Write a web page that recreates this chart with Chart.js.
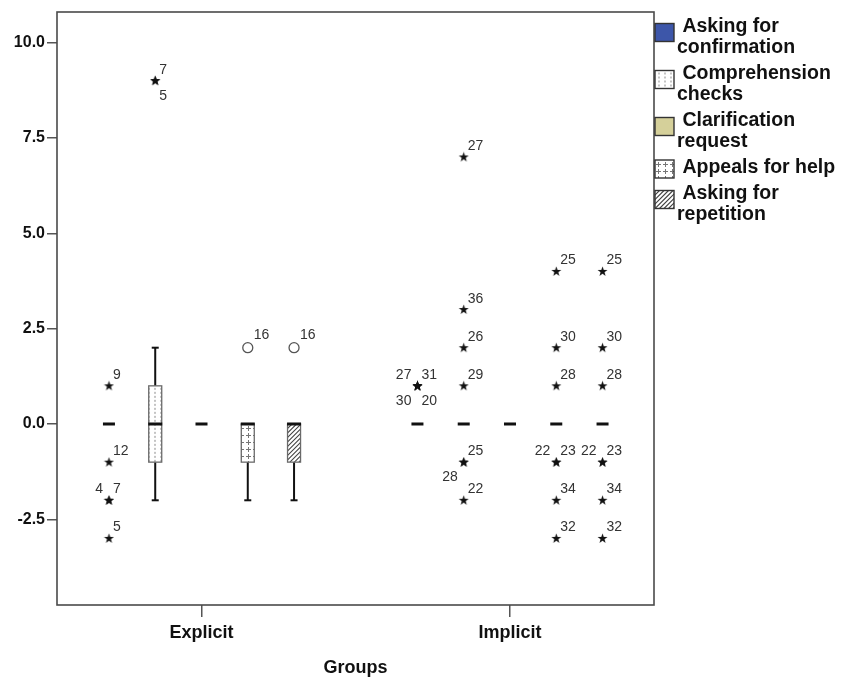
<!DOCTYPE html>
<html lang="en">
<head>
<meta charset="UTF-8">
<title>Strategies by group</title>
<script src="https://cdn.jsdelivr.net/npm/chart.js@4"></script>
<style>
  body { margin: 0; background: #fff; }
  canvas { display: block; }
</style>
</head>
<body>
<canvas id="boxChart" width="844" height="682"></canvas>
<script>
// groups on the x axis, five strategies side by side in each group
const groups = ['Explicit', 'Implicit'];
const strategies = ['Asking for confirmation', 'Comprehension checks', 'Clarification request', 'Appeals for help', 'Asking for repetition'];
const yTicks = [-2.5, 0, 2.5, 5, 7.5, 10];

// [min, q1, median, q3, max] for each strategy
const explicitStats = [
  [0, 0, 0, 0, 0],
  [-2, -1, 0, 1, 2],
  [0, 0, 0, 0, 0],
  [-2, -1, 0, 0, 0],
  [-2, -1, 0, 0, 0]
];
const implicitStats = [
  [0, 0, 0, 0, 0],
  [0, 0, 0, 0, 0],
  [0, 0, 0, 0, 0],
  [0, 0, 0, 0, 0],
  [0, 0, 0, 0, 0]
];

// extreme values (stars): [value, case numbers]
const explicitExtremes = [
  [[1, ['9']], [-1, ['12']], [-2, ['4', '7']], [-3, ['5']]],
  [[9, ['7', '5']]],
  [],
  [],
  []
];
const implicitExtremes = [
  [[1, ['27', '31', '30', '20']]],
  [[7, ['27']], [3, ['36']], [2, ['26']], [1, ['29']], [-1, ['25', '28']], [-2, ['22']]],
  [],
  [[4, ['25']], [2, ['30']], [1, ['28']], [-1, ['22', '23']], [-2, ['34']], [-3, ['32']]],
  [[4, ['25']], [2, ['30']], [1, ['28']], [-1, ['22', '23']], [-2, ['34']], [-3, ['32']]]
];

// outliers (circles)
const explicitOutliers = [[], [], [], [[2, ['16']]], [[2, ['16']]]];
const implicitOutliers = [[], [], [], [], []];

// where case numbers sit around a mark that holds several cases
const labelSpots = {
  '7,5': ['ur', 'lr'],
  '4,7': ['ul', 'ur'],
  '25,28': ['ur', 'll'],
  '22,23': ['ul', 'ur'],
  '27,31,30,20': ['ul', 'ur', 'll', 'lr']
};

const fills = ['#3D56A9', 'dots', '#D5D09A', 'plus', 'hatch'];
const FONT = "'Liberation Sans', Arial, sans-serif";
const spread = 0.15;
const xOf = (g, s) => g + (s - 2) * spread;

// flatten the outlier lists into marks
const marks = [];
[[explicitExtremes, implicitExtremes, 'star'], [explicitOutliers, implicitOutliers, 'circle']].forEach(([a, b, kind]) => {
  [a, b].forEach((lists, g) => lists.forEach((list, s) => list.forEach(([v, ids]) => {
    marks.push({ x: xOf(g, s), y: v, ids, kind });
  })));
});

// small filled five-point star used as point style
const star = document.createElement('canvas');
star.width = 11; star.height = 11;
(function () {
  const c = star.getContext('2d');
  c.beginPath();
  for (let i = 0; i < 10; i++) {
    const r = i % 2 ? 2.1 : 5.2;
    const a = -Math.PI / 2 + i * Math.PI / 5;
    c.lineTo(5.5 + r * Math.cos(a), 5.7 + r * Math.sin(a));
  }
  c.closePath();
  c.fillStyle = '#111';
  c.fill();
})();

function paintFill(ctx, kind, x, y, w, h) {
  ctx.save();
  ctx.beginPath();
  ctx.rect(x, y, w, h);
  ctx.clip();
  if (kind[0] === '#') {
    ctx.fillStyle = kind;
    ctx.fillRect(x, y, w, h);
    ctx.restore();
    return;
  }
  ctx.fillStyle = '#fff';
  ctx.fillRect(x, y, w, h);
  const cx = x + w / 2;
  if (kind === 'dots') {
    ctx.fillStyle = '#8a8a8a';
    for (let k = -3; k <= 3; k++) {
      for (let yy = y + 2; yy < y + h; yy += 4) ctx.fillRect(Math.round(cx + k * 6) - 0.5, yy, 1, 2);
    }
  } else if (kind === 'plus') {
    ctx.strokeStyle = '#777';
    ctx.lineWidth = 1;
    for (let k = -3; k <= 3; k++) {
      for (let yy = y + 4; yy < y + h + 3; yy += 7) {
        const px = Math.round(cx + k * 7) + 0.5, py = Math.round(yy) + 0.5;
        ctx.beginPath();
        ctx.moveTo(px - 2.5, py); ctx.lineTo(px + 2.5, py);
        ctx.moveTo(px, py - 2.5); ctx.lineTo(px, py + 2.5);
        ctx.stroke();
      }
    }
  } else if (kind === 'hatch') {
    ctx.strokeStyle = '#444';
    ctx.lineWidth = 1.1;
    ctx.beginPath();
    for (let t = -h; t < w + h; t += 4.5) {
      ctx.moveTo(x + t, y + h);
      ctx.lineTo(x + t + h, y);
    }
    ctx.stroke();
  }
  ctx.restore();
}

function drawBox(ctx, xc, p, s) {
  const [pMin, pQ1, pMed, pQ3, pMax] = p;
  const bw = 13;
  ctx.save();
  if (Math.abs(pMax - pMin) < 0.5) {
    // all values equal: a short heavy dash
    ctx.fillStyle = '#111';
    ctx.fillRect(xc - 6, pMed - 1.5, 12, 3);
    ctx.restore();
    return;
  }
  ctx.strokeStyle = '#111';
  ctx.lineWidth = 2;
  ctx.beginPath();
  if (pMax < pQ3 - 0.5) { ctx.moveTo(xc, pQ3); ctx.lineTo(xc, pMax); }
  if (pMin > pQ1 + 0.5) { ctx.moveTo(xc, pQ1); ctx.lineTo(xc, pMin); }
  ctx.stroke();
  ctx.fillStyle = '#111';
  if (pMax < pQ3 - 0.5) ctx.fillRect(xc - 3.5, pMax - 1, 7, 2);
  if (pMin > pQ1 + 0.5) ctx.fillRect(xc - 3.5, pMin - 1, 7, 2);
  paintFill(ctx, fills[s], xc - bw / 2, pQ3, bw, pQ1 - pQ3);
  ctx.strokeStyle = '#6a6a6a';
  ctx.lineWidth = 1.3;
  ctx.strokeRect(xc - bw / 2, pQ3, bw, pQ1 - pQ3);
  ctx.fillStyle = '#111';
  ctx.fillRect(xc - bw / 2 - 0.5, pMed - 1.5, bw + 1, 3);
  ctx.restore();
}

const boxPlugin = {
  id: 'boxes',
  beforeDatasetsDraw(chart) {
    const { ctx, scales: { x, y } } = chart;
    [explicitStats, implicitStats].forEach((stats, g) => stats.forEach((st, s) => {
      drawBox(ctx, x.getPixelForValue(xOf(g, s)), st.map(v => y.getPixelForValue(v)), s);
    }));
  },
  afterDatasetsDraw(chart) {
    const { ctx, scales: { x, y } } = chart;
    ctx.save();
    ctx.font = '14px ' + FONT;
    ctx.fillStyle = '#333';
    ctx.textBaseline = 'alphabetic';
    marks.forEach(m => {
      const px = x.getPixelForValue(m.x), py = y.getPixelForValue(m.y);
      const spots = labelSpots[m.ids.join(',')] || ['ur'];
      const dx = m.kind === 'circle' ? 2 : 0, dy = m.kind === 'circle' ? 2 : 0;
      m.ids.forEach((id, i) => {
        const spot = spots[i];
        const right = spot[1] === 'r';
        const upper = spot[0] === 'u';
        ctx.textAlign = right ? 'left' : 'right';
        ctx.fillText(id, right ? px + 4 + dx : px - 6, upper ? py - 7 - dy : py + 19);
      });
    });
    ctx.restore();
  },
  afterDraw(chart) {
    const { ctx, chartArea: a } = chart;
    ctx.save();
    ctx.strokeStyle = '#4a4a4a';
    ctx.lineWidth = 1.6;
    ctx.strokeRect(a.left, a.top, a.right - a.left, a.bottom - a.top);

    // legend on the right, labels wrapped over two lines
    const lines = [['Asking for', 'confirmation'], ['Comprehension', 'checks'], ['Clarification', 'request'], ['Appeals for help'], ['Asking for', 'repetition']];
    ctx.font = 'bold 19.5px ' + FONT;
    ctx.fillStyle = '#111';
    ctx.textAlign = 'left';
    let base = 32;
    lines.forEach((ln, s) => {
      const top = ln.length > 1 ? base - 8.5 : base - 13;
      paintFill(ctx, fills[s], 655, top, 19, 18);
      ctx.strokeStyle = '#333';
      ctx.lineWidth = 1.4;
      ctx.strokeRect(655, top, 19, 18);
      ln.forEach((t, k) => {
        ctx.fillText(k === 0 ? ' ' + t : t, 677, base + k * 21);
      });
      base += ln.length * 21 + 5;
    });
    ctx.restore();
  }
};

new Chart(document.getElementById('boxChart'), {
  type: 'scatter',
  data: {
    datasets: [
      {
        label: 'extremes',
        data: marks.filter(m => m.kind === 'star').flatMap(m => m.ids.map(() => ({ x: m.x, y: m.y }))),
        pointStyle: star,
        pointRadius: 5
      },
      {
        label: 'outliers',
        data: marks.filter(m => m.kind === 'circle').map(m => ({ x: m.x, y: m.y })),
        pointStyle: 'circle',
        pointRadius: 5,
        backgroundColor: '#fff',
        borderColor: '#555',
        borderWidth: 1.3
      }
    ]
  },
  options: {
    responsive: false,
    animation: false,
    events: [],
    layout: { padding: { left: 0, top: 12, right: 190, bottom: 0 } },
    plugins: { legend: { display: false }, tooltip: { enabled: false } },
    scales: {
      x: {
        type: 'linear',
        min: -0.4684,
        max: 1.4668,
        afterBuildTicks: s => { s.ticks = groups.map((_, i) => ({ value: i })); },
        afterFit: s => { s.height = 77; },
        ticks: {
          callback: v => groups[v],
          autoSkip: false,
          maxRotation: 0,
          padding: 5,
          color: '#111',
          font: { family: FONT, size: 18, weight: 'bold' }
        },
        grid: { display: true, drawOnChartArea: false, drawTicks: true, tickLength: 12, color: '#555', lineWidth: 1.5 },
        border: { display: false },
        title: {
          display: true,
          text: 'Groups',
          color: '#111',
          padding: { top: 0, bottom: 3 },
          font: { family: FONT, size: 18, weight: 'bold' }
        }
      },
      y: {
        min: -4.745,
        max: 10.8,
        afterBuildTicks: s => { s.ticks = yTicks.map(v => ({ value: v })); },
        afterFit: s => { s.width = 57; },
        ticks: {
          callback: v => v.toFixed(1),
          padding: 2,
          color: '#111',
          font: { family: FONT, size: 16, weight: 'bold' }
        },
        grid: { display: true, drawOnChartArea: false, drawTicks: true, tickLength: 10, color: '#555', lineWidth: 1.5 },
        border: { display: false }
      }
    }
  },
  plugins: [boxPlugin]
});
</script>
</body>
</html>
